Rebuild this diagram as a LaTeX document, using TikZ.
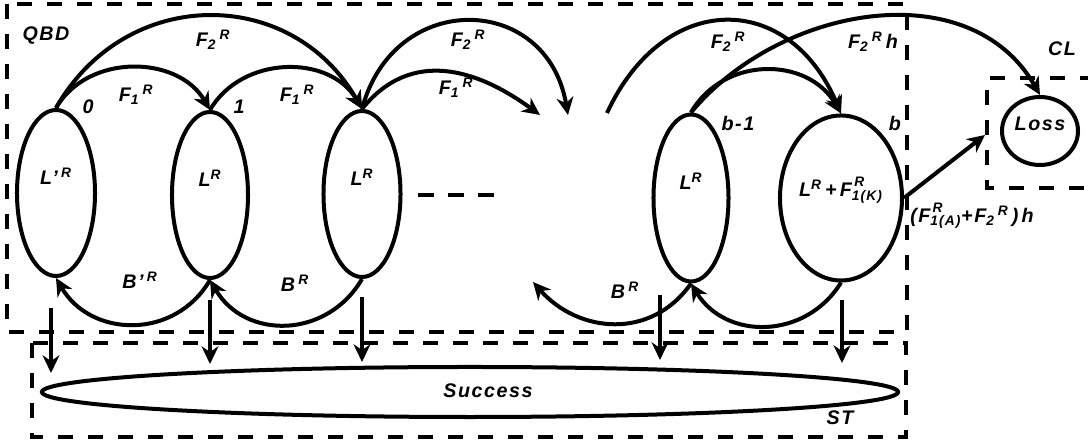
\documentclass[tikz,border=0pt]{standalone}
\usepackage{fontspec}
\setmainfont{Liberation Sans}[LetterSpace=8]
\usetikzlibrary{arrows.meta,shapes.geometric}

% superscript stacked over a subscript
\newcommand{\supsub}[2]{\rlap{\raisebox{0.15em}{\textsuperscript{\,#1}}}\textsubscript{#2}}

\begin{document}
\begin{tikzpicture}[x=0.025cm, y=-0.025cm,
    font=\fontsize{14}{16}\selectfont\bfseries\itshape,
    state/.style={draw, ellipse, line width=0.1cm, inner sep=0pt, text height=0.4cm, text depth=0.8cm},
    grp/.style={line width=0.11cm, dash pattern=on 0.375cm off 0.375cm},
    arr/.style={-{Stealth[length=0.44cm, width=0.42cm, inset=0.14cm]}, line width=0.1cm},
    lbl/.style={inner sep=1pt}
]
\useasboundingbox (0,0) rectangle (1088,444);

% groups
\draw[grp] (7,4) rectangle (907,332);
\draw[grp] (32,343) rectangle (906,437);
\draw[grp] (1095,78) -- (987,78) -- (987,188) -- (1095,188);
\node[lbl] (qbd) at (46,36) {QBD};
\node[lbl] (st) at (840,418) {ST};
\node[lbl] (cl) at (1062,49) {CL};

% levels
\node[state, minimum width=1.95cm, minimum height=4.15cm] (lvl0) at (56,193) {L'\,\textsuperscript{R}};
\node[state, minimum width=1.9cm, minimum height=4.15cm] (lvl1) at (210,195) {L\textsuperscript{R}};
\node[state, minimum width=1.925cm, minimum height=4.15cm] (lvl2) at (362,194) {L\textsuperscript{R}};
\node[state, minimum width=1.875cm, minimum height=4.175cm] (lvlb1) at (691,198) {L\textsuperscript{R}};
\node[state, minimum width=3.05cm, minimum height=4.125cm, text height=0.45cm, text depth=0.5cm] (lvlb) at (841,198) {L\textsuperscript{R}\,+\,F\supsub{R}{1(K)}};
\node[state, minimum width=1.9cm, minimum height=1.7cm, text height=0.35cm, text depth=0.35cm] (loss) at (1040,131) {Loss};
\node[state, minimum width=21.4cm, minimum height=1.25cm, text height=0.35cm, text depth=0.05cm] (succ) at (470,392) {\hspace*{0.9cm}Success};

\node[lbl] (n0) at (88,107) {0};
\node[lbl] (n1) at (239,107) {1};
\node[lbl] (nb1) at (738,123) {b-1};
\node[lbl] (nb) at (895,123) {b};

% free ends
\coordinate (t1) at (540,115);
\coordinate (t2) at (568,115);
\coordinate (s3) at (607,113);
\coordinate (t4) at (533,282);
\coordinate (tl) at (985,135);

% forward arcs
\draw[arr] (lvl0.north) .. controls +(32,-55) and +(-32,-55) .. (lvl1.north);
\draw[arr] (lvl1.north) .. controls +(32,-55) and +(-32,-55) .. (lvl2.north);
\draw[arr] (lvl0.north) .. controls +(70,-123) and +(-70,-123) .. (lvl2.north);
\draw[arr] (lvl2.north) .. controls +(49,-61) and +(-63,-46) .. (t1);
\draw[arr] (lvl2.north) .. controls +(32,-120) and +(-21,-122) .. (t2);
\draw[arr] (s3) .. controls +(57,-123) and +(-52,-123) .. (lvlb.north);
\draw[arr] (lvlb1.north) .. controls +(33,-57) and +(-33,-57) .. (lvlb.north);
\draw[arr] (lvlb1.north) .. controls +(90,-108) and +(-70,-122) .. (loss.north);
\draw[arr] (lvlb.east) -- (tl);

\node[lbl] (lf1a) at (136,95) {F\textsubscript{1}\,\textsuperscript{R}};
\node[lbl] (lf1b) at (297,95) {F\textsubscript{1}\,\textsuperscript{R}};
\node[lbl] (lf2a) at (213,40) {F\textsubscript{2}\,\textsuperscript{R}};
\node[lbl] (lf1c) at (456,88) {F\textsubscript{1}\,\textsuperscript{R}};
\node[lbl] (lf2b) at (468,40) {F\textsubscript{2}\,\textsuperscript{R}};
\node[lbl] (lf2c) at (728,42) {F\textsubscript{2}\,\textsuperscript{R}};
\node[lbl] (lf2h) at (873,42) {F\textsubscript{2}\,\textsuperscript{R}\,h};
\node[lbl] (lout) at (972,216) {(F\supsub{R}{1(A)}+F\textsubscript{2}\,\textsuperscript{R}\,)\,h};

% backward arcs
\draw[arr] (lvl1.south) .. controls +(-35,60) and +(35,60) .. (lvl0.south);
\draw[arr] (lvl2.south) .. controls +(-35,60) and +(35,60) .. (lvl1.south);
\draw[arr] (lvlb1.south) .. controls +(-40,57) and +(45,51) .. (t4);
\draw[arr] (lvlb.south) .. controls +(-35,57) and +(35,57) .. (lvlb1.south);

\node[lbl] (lb0) at (140,280) {B'\,\textsuperscript{R}};
\node[lbl] (lb1) at (295,283) {B\,\textsuperscript{R}};
\node[lbl] (lb2) at (625,290) {B\,\textsuperscript{R}};

% to success
\coordinate (d0) at (51,308); \coordinate (e0) at (51,373);
\coordinate (d1) at (210,300); \coordinate (e1) at (210,364);
\coordinate (d2) at (362,297); \coordinate (e2) at (362,362);
\coordinate (d3) at (660,295); \coordinate (e3) at (660,360);
\coordinate (d4) at (842,300); \coordinate (e4) at (842,363);
\draw[arr] (d0) -- (e0);
\draw[arr] (d1) -- (e1);
\draw[arr] (d2) -- (e2);
\draw[arr] (d3) -- (e3);
\draw[arr] (d4) -- (e4);

% gap between levels
\draw[line width=0.12cm, dash pattern=on 0.4cm off 0.35cm] (418,195) -- (495,195);
\end{tikzpicture}
\end{document}
